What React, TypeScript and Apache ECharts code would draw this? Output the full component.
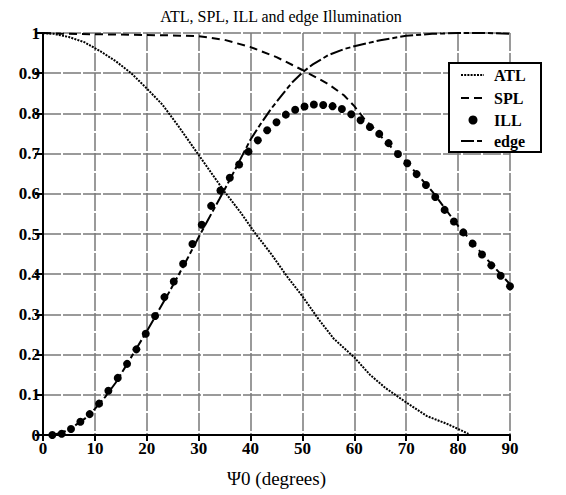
import React, { useEffect, useRef } from "react";
import * as echarts from "echarts";

const titleText = "ATL, SPL, ILL and edge Illumination";
const xAxisName = "Ψ0 (degrees)";
const seriesNames = ["ATL", "SPL", "ILL", "edge"];

const atlX = [0, 2, 5, 8, 11, 14, 17, 20, 23, 26, 29, 32, 35, 38, 41, 44, 47, 50, 53, 56, 60, 63, 66, 70, 74, 78, 82];
const atlY = [1, 0.998, 0.99, 0.977, 0.955, 0.93, 0.9, 0.862, 0.822, 0.77, 0.715, 0.66, 0.605, 0.555, 0.5, 0.45, 0.395, 0.345, 0.29, 0.24, 0.193, 0.15, 0.117, 0.081, 0.047, 0.027, 0.003];

const splX = [0, 5, 10, 15, 20, 25, 30, 35, 40, 45, 50, 55, 58, 60, 62, 64, 66, 70, 75, 80, 85, 90];
const splY = [1, 0.998, 0.997, 0.996, 0.995, 0.994, 0.992, 0.983, 0.965, 0.94, 0.908, 0.873, 0.845, 0.818, 0.785, 0.76, 0.73, 0.68, 0.606, 0.52, 0.445, 0.375];

const illX = [1.8, 3.6, 5.4, 7.2, 9.0, 10.8, 12.6, 14.4, 16.2, 18.0, 19.8, 21.6, 23.4, 25.2, 27.0, 28.8, 30.6, 32.4, 34.2, 36.0, 37.8, 39.6, 41.4, 43.2, 45.0, 46.8, 48.6, 50.4, 52.2, 54.0, 55.8, 57.6, 59.4, 61.2, 63.0, 64.8, 66.6, 68.4, 70.2, 72.0, 73.8, 75.6, 77.4, 79.2, 81.0, 82.8, 84.6, 86.4, 88.2, 90.0];
const illY = [0.0, 0.003, 0.015, 0.033, 0.052, 0.078, 0.11, 0.142, 0.177, 0.213, 0.252, 0.296, 0.343, 0.382, 0.426, 0.475, 0.523, 0.57, 0.608, 0.64, 0.673, 0.705, 0.733, 0.758, 0.778, 0.797, 0.809, 0.817, 0.822, 0.821, 0.818, 0.811, 0.798, 0.783, 0.766, 0.749, 0.726, 0.699, 0.676, 0.649, 0.622, 0.592, 0.56, 0.531, 0.504, 0.476, 0.449, 0.422, 0.396, 0.37];

const edgeX = [2, 4, 6, 8, 10, 12, 14, 16, 18, 20, 22, 24, 26, 28, 30, 32, 34, 36, 38, 40, 42, 44, 46, 48, 50, 52, 55, 58, 60, 65, 70, 75, 80, 85, 90];
const edgeY = [0, 0.008, 0.022, 0.04, 0.065, 0.095, 0.13, 0.172, 0.215, 0.258, 0.303, 0.348, 0.395, 0.443, 0.492, 0.54, 0.587, 0.635, 0.685, 0.735, 0.775, 0.812, 0.845, 0.877, 0.902, 0.922, 0.945, 0.96, 0.967, 0.982, 0.993, 0.998, 1.0, 1.0, 0.998];

const zip = (xs: number[], ys: number[]) => xs.map((x, i) => [x, ys[i]]);

const FONT = "'Liberation Serif', 'DejaVu Serif', serif";

const ATL_DASH = [2, 1.2];
const SPL_DASH = [8, 5];
const EDGE_DASH = [13, 3, 5, 3];

export default function App() {
  const ref = useRef<HTMLDivElement>(null);
  useEffect(() => {
    document.body.style.margin = "0";
    const chart = echarts.init(ref.current!, null, { renderer: "svg" });
    const grid = "#7a7a7a";

    const lgLeft = 449;
    const lgTop = 63;
    const lgW = 92;
    const lgH = 89;
    const rowY = [75, 98, 120, 141];
    const dashes = [ATL_DASH, SPL_DASH, null, EDGE_DASH];
    const legendEls: any[] = [
      {
        type: "rect",
        shape: { x: lgLeft, y: lgTop, width: lgW, height: lgH },
        style: { fill: "#fff", stroke: "#000", lineWidth: 2 },
        z: 100,
      },
    ];
    seriesNames.forEach((name, i) => {
      const y = rowY[i];
      if (dashes[i]) {
        legendEls.push({
          type: "line",
          shape: { x1: 461, y1: y, x2: 484, y2: y },
          style: { stroke: "#000", lineWidth: 2, lineDash: dashes[i] },
          z: 101,
        });
      } else {
        legendEls.push({
          type: "circle",
          shape: { cx: 473, cy: y, r: 4.5 },
          style: { fill: "#000" },
          z: 101,
        });
      }
      legendEls.push({
        type: "text",
        x: 494,
        y,
        style: {
          text: name,
          fontFamily: FONT,
          fontSize: 16,
          fontWeight: "bold",
          fill: "#000",
          verticalAlign: "middle",
        },
        z: 101,
      });
    });

    chart.setOption({
      animation: false,
      backgroundColor: "#ffffff",
      title: {
        text: titleText,
        left: 276,
        top: 3,
        textAlign: "center",
        textStyle: { fontFamily: FONT, fontSize: 16, fontWeight: "normal", color: "#000" },
      },
      grid: { left: 43, right: 56, top: 33, bottom: 60 },
      xAxis: {
        type: "value",
        min: 0,
        max: 90,
        interval: 10,
        name: xAxisName,
        nameLocation: "middle",
        nameGap: 34,
        nameTextStyle: { fontFamily: FONT, fontSize: 19, color: "#000" },
        axisLine: { lineStyle: { color: "#000", width: 2 } },
        axisTick: { inside: false, length: 6, lineStyle: { color: "#000", width: 2 } },
        axisLabel: { fontFamily: FONT, fontSize: 17, fontWeight: "bold", color: "#000", margin: 5 },
        splitLine: { show: true, lineStyle: { color: grid, width: 1.5, type: [18, 2] } },
      },
      yAxis: {
        type: "value",
        min: 0,
        max: 1,
        interval: 0.1,
        axisLine: { show: true, lineStyle: { color: "#000", width: 2 } },
        axisTick: { show: true, inside: false, length: 8, lineStyle: { color: "#000", width: 2 } },
        axisLabel: { fontFamily: FONT, fontSize: 17, fontWeight: "bold", color: "#000", margin: 3 },
        splitLine: { show: true, lineStyle: { color: grid, width: 1.5, type: [18, 2] } },
      },
      graphic: legendEls,
      series: [
        {
          name: "ATL",
          type: "line",
          data: zip(atlX, atlY),
          symbol: "none",
          lineStyle: { color: "#000", width: 2, type: ATL_DASH },
        },
        {
          name: "SPL",
          type: "line",
          data: zip(splX, splY),
          symbol: "none",
          lineStyle: { color: "#000", width: 2, type: SPL_DASH },
        },
        {
          name: "ILL",
          type: "scatter",
          data: zip(illX, illY),
          symbol: "circle",
          symbolSize: 8,
          itemStyle: { color: "#000", opacity: 1 },
          z: 3,
        },
        {
          name: "edge",
          type: "line",
          data: zip(edgeX, edgeY),
          symbol: "none",
          lineStyle: { color: "#000", width: 2, type: EDGE_DASH },
        },
      ],
    });
    return () => chart.dispose();
  }, []);
  return <div ref={ref} style={{ width: 566, height: 495 }} />;
}
